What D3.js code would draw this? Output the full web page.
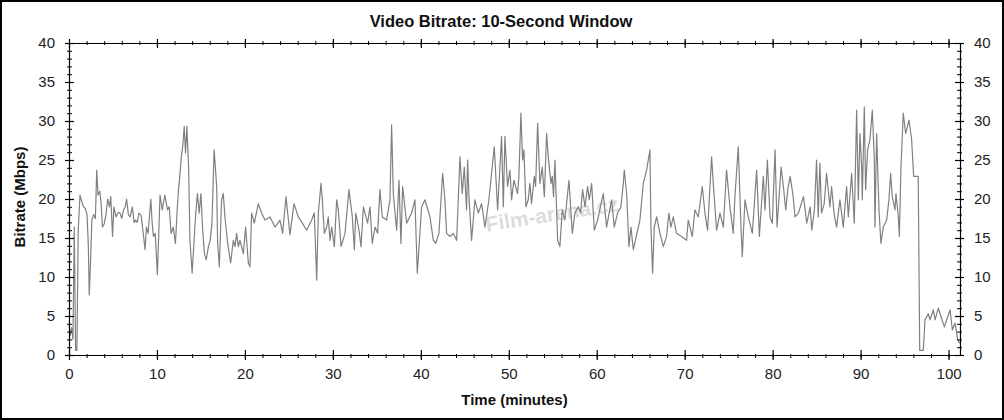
<!DOCTYPE html>
<html>
<head>
<meta charset="utf-8">
<script src="https://cdn.jsdelivr.net/npm/d3@7/dist/d3.min.js"></script>
<style>
  html, body { margin: 0; padding: 0; background: #fff; }
  svg { display: block; }
  text { font-family: "Liberation Sans", Arial, sans-serif; }
</style>
</head>
<body>
<svg id="chart" width="1004" height="420"></svg>
<script>
const title = "Video Bitrate: 10-Second Window";
const xTitle = "Time (minutes)";
const yTitle = "Bitrate (Mbps)";
const watermark = "Film-arena.cz";

const xTickValues = [0, 10, 20, 30, 40, 50, 60, 70, 80, 90, 100];
const yTickValues = [0, 5, 10, 15, 20, 25, 30, 35, 40];

const minutes = [
  0.0, 0.15, 0.3, 0.45, 0.6, 0.75, 0.9, 1.05, 1.25, 1.45, 1.65, 1.85, 2.05, 2.2, 2.3, 2.45, 2.6, 2.8, 3.0, 3.15,
  3.3, 3.5, 3.65, 3.8, 4.0, 4.2, 4.4, 4.6, 4.75, 4.95, 5.1, 5.35, 5.6, 5.8, 6.0, 6.2, 6.4, 6.55, 6.75, 6.95,
  7.2, 7.4, 7.55, 7.75, 7.95, 8.2, 8.4, 8.65, 8.8, 9.0, 9.3, 9.45, 9.6, 9.8, 10.05, 10.35, 10.6, 10.9, 11.2, 11.4,
  11.6, 11.85, 12.1, 12.3, 12.45, 12.6, 12.75, 12.95, 13.1, 13.25, 13.4, 13.6, 13.75, 14.0, 14.2, 14.4, 14.6, 14.8, 15.0, 15.2,
  15.4, 15.6, 15.85, 16.05, 16.25, 16.5, 16.79, 16.9, 17.09, 17.35, 17.54, 17.73, 18.04, 18.38, 18.68, 18.87, 19.06, 19.25, 19.44, 19.82,
  20.08, 20.39, 20.58, 20.76, 21.07, 21.52, 21.9, 22.28, 22.85, 23.42, 23.99, 24.29, 24.67, 25.12, 25.58, 26.07, 26.53, 27.02, 27.59, 27.89,
  28.16, 28.35, 28.65, 28.8, 29.03, 29.3, 29.48, 29.67, 29.86, 30.17, 30.43, 30.62, 30.93, 31.38, 31.83, 32.21, 32.44, 32.6, 32.97, 33.2,
  33.47, 33.95, 34.22, 34.48, 34.79, 35.09, 35.35, 35.62, 36.11, 36.49, 36.68, 36.87, 37.25, 37.52, 37.74, 37.93, 38.39, 38.95, 39.33, 39.6,
  40.09, 40.47, 41.04, 41.42, 41.68, 42.06, 42.48, 42.74, 42.93, 43.31, 43.69, 44.07, 44.45, 44.71, 44.94, 45.2, 45.32, 45.47, 45.77, 46.15,
  46.53, 46.91, 47.29, 47.74, 48.35, 48.73, 49.18, 49.38, 49.56, 49.86, 50.13, 50.32, 50.58, 51.0, 51.15, 51.38, 51.57, 51.72, 51.95, 52.21,
  52.4, 52.59, 52.9, 53.05, 53.28, 53.54, 53.81, 54.04, 54.3, 54.49, 54.79, 54.94, 55.09, 55.25, 55.4, 55.55, 55.81, 56.08, 56.38, 56.84,
  57.22, 57.52, 57.9, 58.16, 58.39, 58.66, 58.96, 59.15, 59.42, 59.72, 60.1, 60.74, 61.12, 61.69, 61.99, 62.37, 62.75, 63.02, 63.13, 63.4,
  63.66, 63.89, 64.16, 64.91, 65.29, 65.67, 66.05, 66.16, 66.35, 66.54, 66.81, 67.19, 67.57, 67.94, 68.2, 68.43, 68.7, 69.07, 69.64, 70.21,
  70.4, 70.86, 71.16, 71.54, 72.0, 72.3, 72.6, 73.06, 73.25, 73.63, 74.01, 74.39, 74.76, 75.14, 75.52, 75.71, 76.09, 76.4, 76.55, 76.85,
  77.23, 77.69, 78.18, 78.49, 78.94, 79.13, 79.4, 79.7, 79.96, 80.27, 80.5, 80.96, 81.22, 81.49, 81.72, 81.99, 82.29, 82.55, 82.93, 83.5,
  83.88, 84.26, 84.45, 84.75, 84.99, 85.18, 85.37, 85.56, 85.86, 86.13, 86.51, 86.7, 87.0, 87.27, 87.65, 88.03, 88.41, 88.6, 88.98, 89.28,
  89.36, 89.55, 89.74, 89.93, 90.12, 90.19, 90.42, 90.57, 90.8, 91.06, 91.33, 91.56, 91.63, 91.82, 92.09, 92.31, 92.58, 92.96, 93.22, 93.41,
  93.6, 93.91, 94.02, 94.29, 94.4, 94.59, 94.85, 95.12, 95.5, 95.8, 96.03, 96.55, 96.72, 97.13, 97.32, 97.7, 97.89, 98.27, 98.46, 98.84,
  99.14, 99.52, 99.9, 100.17, 100.43, 100.74, 101.04, 101.3
];

const bitrate = [
  4.0, 2.5, 3.5, 2.0, 16.4, 0.6, 0.6, 16.0, 20.5, 19.7, 19.0, 18.8, 18.0, 14.0, 7.7, 12.0, 17.3, 18.0, 17.5, 23.7,
  20.5, 21.0, 19.5, 16.4, 16.8, 18.0, 20.0, 19.0, 20.3, 15.2, 19.0, 17.7, 18.3, 18.2, 17.5, 18.6, 19.0, 20.0, 18.0, 17.7,
  19.0, 17.0, 17.3, 17.0, 18.2, 17.9, 16.0, 13.5, 16.4, 15.6, 20.0, 17.0, 15.2, 15.6, 10.3, 20.5, 18.6, 20.5, 18.6, 19.0,
  15.6, 16.4, 14.3, 18.6, 21.2, 22.9, 25.2, 27.0, 29.3, 25.9, 29.3, 24.1, 14.7, 10.5, 14.3, 18.0, 20.7, 18.2, 20.7, 16.0,
  13.0, 12.2, 13.9, 14.7, 16.9, 26.3, 21.6, 14.3, 11.3, 19.9, 20.7, 17.7, 14.3, 11.8, 14.7, 13.9, 15.6, 13.9, 14.7, 13.0,
  16.4, 11.8, 11.3, 18.2, 16.9, 19.4, 18.2, 17.3, 17.7, 16.4, 17.3, 15.6, 20.3, 15.4, 19.4, 17.7, 16.9, 16.0, 17.3, 18.2,
  9.6, 18.2, 22.0, 19.9, 15.6, 16.4, 17.7, 14.7, 16.4, 13.9, 19.9, 18.6, 13.9, 15.6, 21.2, 17.7, 13.5, 18.2, 16.0, 13.9,
  19.0, 16.9, 19.0, 14.3, 16.4, 15.6, 21.2, 17.7, 17.3, 19.9, 29.5, 20.7, 16.0, 22.4, 14.3, 21.6, 16.9, 18.2, 19.9, 10.5,
  19.0, 19.9, 17.7, 14.7, 14.3, 15.6, 23.3, 19.9, 15.6, 15.2, 15.6, 14.7, 25.4, 20.7, 24.1, 18.6, 25.0, 20.3, 14.7, 19.9,
  18.2, 19.4, 16.4, 19.9, 26.7, 18.6, 28.0, 19.0, 28.0, 21.6, 23.7, 19.9, 22.4, 20.7, 22.9, 31.0, 25.0, 26.3, 19.0, 19.9,
  22.0, 19.4, 22.9, 21.6, 29.7, 22.0, 24.1, 20.3, 28.4, 25.4, 22.0, 22.9, 20.3, 25.0, 19.9, 14.7, 13.9, 18.6, 17.3, 22.4,
  15.6, 18.2, 19.0, 18.2, 21.2, 19.0, 21.6, 19.9, 22.0, 16.0, 17.3, 20.7, 16.4, 19.9, 16.4, 18.2, 19.0, 22.0, 23.7, 20.7,
  13.9, 16.4, 13.5, 17.3, 22.0, 23.7, 26.3, 16.4, 10.5, 16.4, 17.7, 15.6, 13.9, 15.2, 18.2, 16.4, 17.7, 15.6, 15.2, 14.7,
  17.3, 15.2, 18.6, 17.7, 21.6, 18.2, 16.0, 25.4, 22.0, 16.0, 18.2, 16.4, 23.7, 19.0, 15.6, 20.3, 26.7, 16.4, 12.6, 19.9,
  17.7, 15.6, 23.7, 15.2, 22.9, 18.6, 25.0, 17.7, 16.9, 26.3, 16.4, 24.1, 21.6, 18.6, 21.2, 22.9, 20.7, 17.7, 18.2, 20.3,
  16.9, 19.0, 16.0, 18.6, 25.0, 17.7, 24.6, 18.2, 19.4, 23.3, 19.0, 21.6, 18.0, 16.4, 19.9, 16.4, 21.6, 17.7, 23.3, 16.9,
  21.2, 31.4, 19.9, 28.4, 24.1, 19.9, 31.8, 21.2, 26.3, 27.6, 31.4, 25.0, 16.4, 28.4, 18.6, 14.3, 16.4, 17.3, 19.9, 23.3,
  20.3, 18.6, 20.7, 17.7, 15.2, 24.1, 31.0, 28.4, 30.1, 27.6, 22.9, 22.9, 0.6, 0.6, 4.5, 5.3, 4.5, 5.8, 4.5, 6.0,
  4.9, 3.6, 4.9, 5.8, 3.2, 4.1, 1.9, 1.5
];

const W = 1004, H = 420;
const padL = 69, padR = 960, padT = 43, padB = 355;

const svg = d3.select("#chart");

// outer frame
svg.append("rect").attr("x", 1).attr("y", 1).attr("width", W - 2).attr("height", H - 2)
  .attr("fill", "#fff").attr("stroke", "#000").attr("stroke-width", 2);

const x = d3.scaleLinear().domain([0, 101.3]).range([padL, padR]);
const y = d3.scaleLinear().domain([0, 40]).range([padB, padT]);

const xMinor = d3.range(0, 101.3, 2);
const yMinor = d3.range(0, 40.01, 1);

// watermark
svg.append("text")
  .attr("x", 0).attr("y", 0)
  .attr("transform", `translate(${x(47.5)},${y(15.8)}) rotate(-9)`)
  .attr("font-size", 21).attr("font-weight", "bold")
  .attr("fill", "#d6d6d6").attr("fill-opacity", 0.85)
  .text(watermark);

// data line
const pts = minutes.map((m, i) => [m, bitrate[i]]);
svg.append("path")
  .datum(pts)
  .attr("fill", "none")
  .attr("stroke", "#808080")
  .attr("stroke-width", 1.2)
  .attr("stroke-linejoin", "round")
  .attr("d", d3.line().x(d => x(d[0])).y(d => y(d[1])));

function styleAxis(g) {
  g.select(".domain").attr("stroke", "#000").attr("stroke-width", 1.2);
  g.selectAll(".tick line").attr("stroke", "#000").attr("stroke-width", 1.2);
  g.selectAll(".tick text").attr("fill", "#222").attr("font-size", 15)
    .attr("font-family", "'Liberation Sans', Arial, sans-serif");
}

// bottom axis
const gB = svg.append("g").attr("transform", `translate(0,${padB})`)
  .call(d3.axisBottom(x).tickValues(xTickValues).tickSize(5).tickSizeOuter(0).tickPadding(8).tickFormat(d3.format("d")));
gB.selectAll(".tick line").attr("y1", -5).attr("y2", 5);
styleAxis(gB);
const gBm = svg.append("g").attr("transform", `translate(0,${padB})`)
  .call(d3.axisBottom(x).tickValues(xMinor).tickSize(3).tickSizeOuter(0).tickFormat(""));
gBm.select(".domain").remove();
gBm.selectAll(".tick line").attr("y1", -1).attr("y2", 3).attr("stroke", "#000");

// top axis
const gT = svg.append("g").attr("transform", `translate(0,${padT})`)
  .call(d3.axisTop(x).tickValues(xTickValues).tickSize(5).tickSizeOuter(0).tickFormat(""));
gT.selectAll(".tick line").attr("y1", -4).attr("y2", 5);
styleAxis(gT);
const gTm = svg.append("g").attr("transform", `translate(0,${padT})`)
  .call(d3.axisTop(x).tickValues(xMinor).tickSize(3).tickSizeOuter(0).tickFormat(""));
gTm.select(".domain").remove();
gTm.selectAll(".tick line").attr("y1", -2).attr("y2", 2).attr("stroke", "#000");

// left axis
const gL = svg.append("g").attr("transform", `translate(${padL},0)`)
  .call(d3.axisLeft(y).tickValues(yTickValues).tickSize(5).tickSizeOuter(0).tickPadding(9));
gL.selectAll(".tick line").attr("x1", -4).attr("x2", 5);
styleAxis(gL);
const gLm = svg.append("g").attr("transform", `translate(${padL},0)`)
  .call(d3.axisLeft(y).tickValues(yMinor).tickSize(3).tickSizeOuter(0).tickFormat(""));
gLm.select(".domain").remove();
gLm.selectAll(".tick line").attr("x1", -2).attr("x2", 3).attr("stroke", "#000");

// right axis
const gR = svg.append("g").attr("transform", `translate(${padR},0)`)
  .call(d3.axisRight(y).tickValues(yTickValues).tickSize(5).tickSizeOuter(0).tickPadding(9));
gR.selectAll(".tick line").attr("x1", -5).attr("x2", 4);
styleAxis(gR);
const gRm = svg.append("g").attr("transform", `translate(${padR},0)`)
  .call(d3.axisRight(y).tickValues(yMinor).tickSize(3).tickSizeOuter(0).tickFormat(""));
gRm.select(".domain").remove();
gRm.selectAll(".tick line").attr("x1", -3).attr("x2", 2).attr("stroke", "#000");

// titles
svg.append("text").attr("x", 501).attr("y", 27).attr("text-anchor", "middle")
  .attr("font-size", 16.5).attr("font-weight", "bold").attr("fill", "#111").text(title);
svg.append("text").attr("x", (padL + padR) / 2).attr("y", 405).attr("text-anchor", "middle")
  .attr("font-size", 15).attr("font-weight", "bold").attr("fill", "#111").text(xTitle);
svg.append("text").attr("transform", `translate(25,${(padT + padB) / 2 - 2}) rotate(-90)`)
  .attr("text-anchor", "middle")
  .attr("font-size", 15).attr("font-weight", "bold").attr("fill", "#111").text(yTitle);
</script>
</body>
</html>
